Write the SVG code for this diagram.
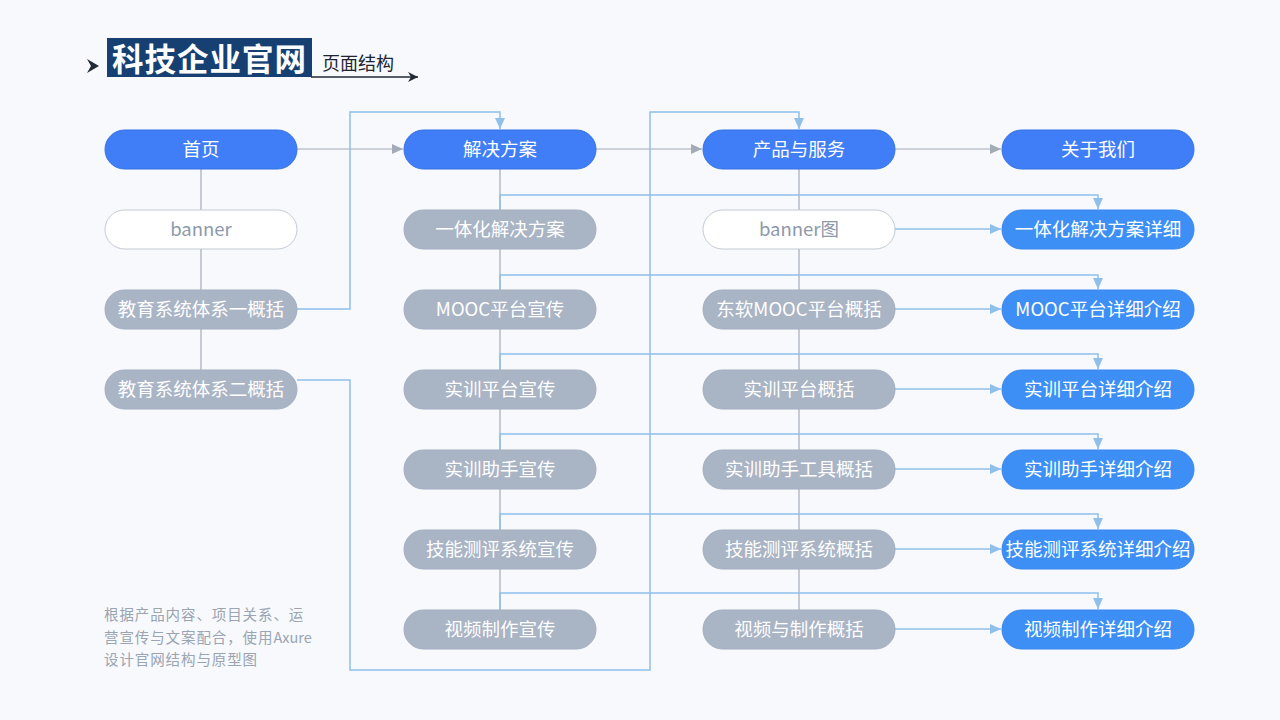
<svg xmlns="http://www.w3.org/2000/svg" width="1280" height="720" viewBox="0 0 1280 720">
<style>
text{font-family:"Noto Sans CJK SC","Noto Sans",sans-serif;}
.lbl{font-size:18.5px;text-anchor:middle;dominant-baseline:central;fill:#ffffff;}
.lblw{font-size:18.5px;text-anchor:middle;dominant-baseline:central;fill:#8d99aa;}
.top rect{fill:#3f7ef6;stroke:#3571e2;stroke-width:1;}
.sub rect{fill:#a9b4c5;stroke:#a3aebf;stroke-width:1;}
.wht rect{fill:#ffffff;stroke:#c3cad5;stroke-width:1;}
.det rect{fill:#3d8ff6;stroke:#3a85ec;stroke-width:1;}
.g{fill:none;stroke:#a3abb7;stroke-width:1.2;}
.b{fill:none;stroke:#8ec0ea;stroke-width:1.5;}
.note{font-size:14.5px;fill:#9aa4b2;letter-spacing:0.9px;}
</style>
<defs>
<marker id="ag" markerUnits="userSpaceOnUse" markerWidth="12" markerHeight="10" refX="11" refY="5" orient="auto"><path d="M0,0 L11,5 L0,10 Z" fill="#a3abb7"/></marker>
<marker id="ab" markerUnits="userSpaceOnUse" markerWidth="12" markerHeight="10" refX="11" refY="5" orient="auto"><path d="M0,0 L11,5 L0,10 Z" fill="#8ec0ea"/></marker>
<marker id="ak" markerUnits="userSpaceOnUse" markerWidth="12" markerHeight="10" refX="10" refY="5" orient="auto"><path d="M0,0 L10,5 L0,10 L3,5 Z" fill="#222a36"/></marker>
</defs>
<rect width="1280" height="720" fill="#f7f9fc"/>

<g id="header">
<path d="M87,59 L99,66 L87,73 L91,66 Z" fill="#222a36"/>
<rect x="107" y="38" width="205" height="39" fill="#163f72"/>
<text x="112" y="71" font-size="31.5" font-weight="bold" fill="#ffffff" letter-spacing="1">科技企业官网</text>
<text x="322" y="70" font-size="18" fill="#1e2430">页面结构</text>
<line x1="311" y1="77" x2="418" y2="77" stroke="#222a36" stroke-width="1.3" marker-end="url(#ak)"/>
</g>

<g id="connectors">
<line class="g" x1="201" y1="169" x2="201" y2="370"/>
<line class="g" x1="500" y1="169" x2="500" y2="610"/>
<line class="g" x1="799" y1="169" x2="799" y2="610"/>
<line class="g" x1="297" y1="149" x2="403" y2="149" marker-end="url(#ag)"/>
<line class="g" x1="596" y1="149" x2="702" y2="149" marker-end="url(#ag)"/>
<line class="g" x1="895" y1="149" x2="1001" y2="149" marker-end="url(#ag)"/>
<path class="b" d="M297,309 H350 V112 H500 V129" marker-end="url(#ab)"/>
<path class="b" d="M297,380 H350 V670 H650 V112 H799 V129" marker-end="url(#ab)"/>
<path class="b" d="M500,210 V195 H1098 V209" marker-end="url(#ab)"/>
<path class="b" d="M500,290 V275 H1098 V289" marker-end="url(#ab)"/>
<path class="b" d="M500,370 V354 H1098 V369" marker-end="url(#ab)"/>
<path class="b" d="M500,450 V434 H1098 V449" marker-end="url(#ab)"/>
<path class="b" d="M500,530 V514 H1098 V529" marker-end="url(#ab)"/>
<path class="b" d="M500,610 V593 H1098 V609" marker-end="url(#ab)"/>
<line class="b" x1="895" y1="229" x2="1001" y2="229" marker-end="url(#ab)"/>
<line class="b" x1="895" y1="309" x2="1001" y2="309" marker-end="url(#ab)"/>
<line class="b" x1="895" y1="389" x2="1001" y2="389" marker-end="url(#ab)"/>
<line class="b" x1="895" y1="469" x2="1001" y2="469" marker-end="url(#ab)"/>
<line class="b" x1="895" y1="549" x2="1001" y2="549" marker-end="url(#ab)"/>
<line class="b" x1="895" y1="629" x2="1001" y2="629" marker-end="url(#ab)"/>
</g>

<g id="n-home" class="top"><rect x="105" y="130" width="192" height="39" rx="19.5"/><text class="lbl" x="201" y="148">首页</text></g>
<g id="n-banner" class="wht"><rect x="105" y="210" width="192" height="39" rx="19.5"/><text class="lblw" x="201" y="228">banner</text></g>
<g id="n-edu1" class="sub"><rect x="105" y="290" width="192" height="39" rx="19.5"/><text class="lbl" x="201" y="308">教育系统体系一概括</text></g>
<g id="n-edu2" class="sub"><rect x="105" y="370" width="192" height="39" rx="19.5"/><text class="lbl" x="201" y="388">教育系统体系二概括</text></g>

<g id="n-solution" class="top"><rect x="404" y="130" width="192" height="39" rx="19.5"/><text class="lbl" x="500" y="148">解决方案</text></g>
<g id="n-s1" class="sub"><rect x="404" y="210" width="192" height="39" rx="19.5"/><text class="lbl" x="500" y="228">一体化解决方案</text></g>
<g id="n-s2" class="sub"><rect x="404" y="290" width="192" height="39" rx="19.5"/><text class="lbl" x="500" y="308">MOOC平台宣传</text></g>
<g id="n-s3" class="sub"><rect x="404" y="370" width="192" height="39" rx="19.5"/><text class="lbl" x="500" y="388">实训平台宣传</text></g>
<g id="n-s4" class="sub"><rect x="404" y="450" width="192" height="39" rx="19.5"/><text class="lbl" x="500" y="468">实训助手宣传</text></g>
<g id="n-s5" class="sub"><rect x="404" y="530" width="192" height="39" rx="19.5"/><text class="lbl" x="500" y="548">技能测评系统宣传</text></g>
<g id="n-s6" class="sub"><rect x="404" y="610" width="192" height="39" rx="19.5"/><text class="lbl" x="500" y="628">视频制作宣传</text></g>

<g id="n-product" class="top"><rect x="703" y="130" width="192" height="39" rx="19.5"/><text class="lbl" x="799" y="148">产品与服务</text></g>
<g id="n-p1" class="wht"><rect x="703" y="210" width="192" height="39" rx="19.5"/><text class="lblw" x="799" y="228">banner图</text></g>
<g id="n-p2" class="sub"><rect x="703" y="290" width="192" height="39" rx="19.5"/><text class="lbl" x="799" y="308">东软MOOC平台概括</text></g>
<g id="n-p3" class="sub"><rect x="703" y="370" width="192" height="39" rx="19.5"/><text class="lbl" x="799" y="388">实训平台概括</text></g>
<g id="n-p4" class="sub"><rect x="703" y="450" width="192" height="39" rx="19.5"/><text class="lbl" x="799" y="468">实训助手工具概括</text></g>
<g id="n-p5" class="sub"><rect x="703" y="530" width="192" height="39" rx="19.5"/><text class="lbl" x="799" y="548">技能测评系统概括</text></g>
<g id="n-p6" class="sub"><rect x="703" y="610" width="192" height="39" rx="19.5"/><text class="lbl" x="799" y="628">视频与制作概括</text></g>

<g id="n-about" class="top"><rect x="1002" y="130" width="192" height="39" rx="19.5"/><text class="lbl" x="1098" y="148">关于我们</text></g>
<g id="n-d1" class="det"><rect x="1002" y="210" width="192" height="39" rx="19.5"/><text class="lbl" x="1098" y="228">一体化解决方案详细</text></g>
<g id="n-d2" class="det"><rect x="1002" y="290" width="192" height="39" rx="19.5"/><text class="lbl" x="1098" y="308">MOOC平台详细介绍</text></g>
<g id="n-d3" class="det"><rect x="1002" y="370" width="192" height="39" rx="19.5"/><text class="lbl" x="1098" y="388">实训平台详细介绍</text></g>
<g id="n-d4" class="det"><rect x="1002" y="450" width="192" height="39" rx="19.5"/><text class="lbl" x="1098" y="468">实训助手详细介绍</text></g>
<g id="n-d5" class="det"><rect x="1002" y="530" width="192" height="39" rx="19.5"/><text class="lbl" x="1098" y="548">技能测评系统详细介绍</text></g>
<g id="n-d6" class="det"><rect x="1002" y="610" width="192" height="39" rx="19.5"/><text class="lbl" x="1098" y="628">视频制作详细介绍</text></g>

<g id="note">
<text class="note" x="104" y="620">根据产品内容、项目关系、运</text>
<text class="note" x="104" y="643">营宣传与文案配合，使用<tspan letter-spacing="0">Axure</tspan></text>
<text class="note" x="104" y="665">设计官网结构与原型图</text>
</g>
</svg>
